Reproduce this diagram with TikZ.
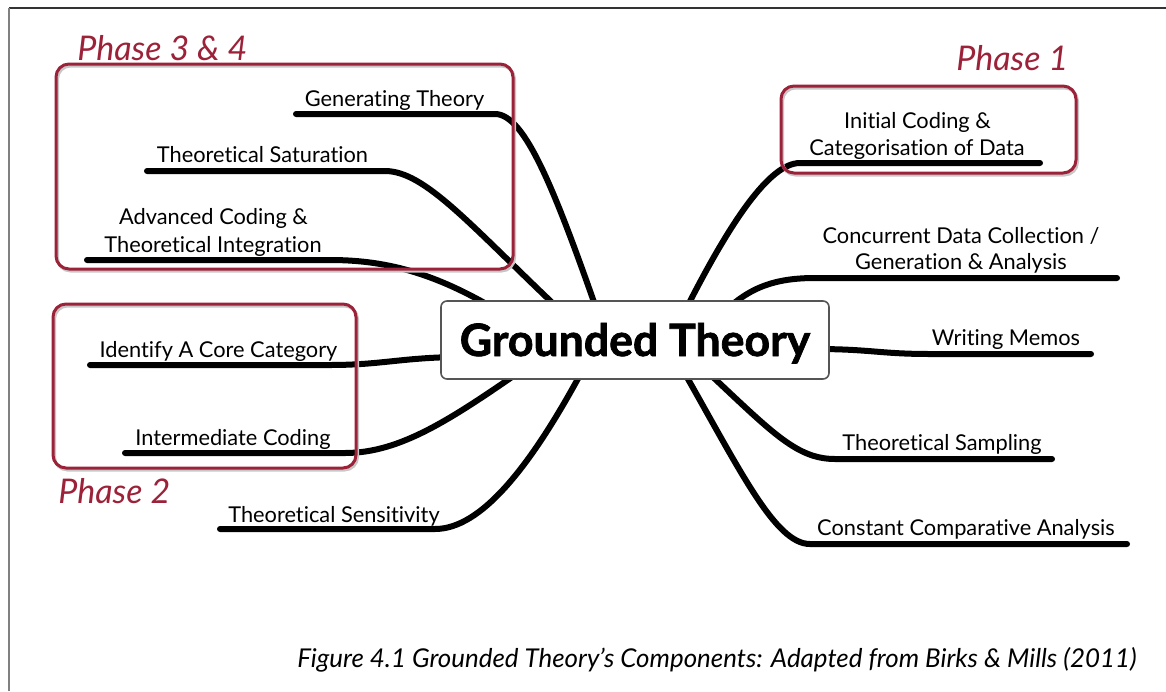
\documentclass[tikz,border=0pt]{standalone}
\usepackage{fontspec}
\setmainfont{Lato}[Ligatures={NoCommon}]
\newfontfamily\hubfont{Lato}[Ligatures={NoCommon}, BoldFeatures={FakeBold=1.6}]
\definecolor{phasered}{RGB}{155,34,56}
\definecolor{hubgray}{RGB}{85,85,85}
\begin{document}
\begin{tikzpicture}[x=0.5pt,y=-0.5pt,
  branch/.style={line width=3pt, line cap=round, draw=black},
  lbl/.style={anchor=base, inner sep=0pt, font=\fontsize{10.9}{12}\selectfont},
  phasebox/.style={draw=phasered, line width=1.5pt, rounded corners=6.5pt},
  phaseshadow/.style={draw=black!22, line width=1.5pt, rounded corners=6.5pt},
  phaselbl/.style={anchor=base west, inner sep=0pt, text=phasered, font=\fontsize{17}{20}\selectfont\itshape},
  hub/.style={draw=hubgray, line width=0.8pt, fill=white, rounded corners=3pt, inner sep=0pt,
    minimum width=194pt, text height=27.5pt, text depth=11.5pt, anchor=base,
    font=\hubfont\fontsize{22.3}{24}\selectfont\bfseries},
  framel/.style={line width=0.7pt}
]
\useasboundingbox (0,0) rectangle (1166,691);

% frame (partial)
\coordinate (fTL) at (9,8);
\coordinate (fTR) at (1166,8);
\coordinate (fBL) at (9,691);
\draw[framel, draw=black!80] (fTL) -- (fTR);
\draw[framel, draw=black!50] (fTL) -- (fBL);

% ---------- left branches ----------
\coordinate (gen0) at (296,114); \coordinate (gen1) at (495,114); \coordinate (genH) at (602,325);
\draw[branch] (gen0) -- (gen1) .. controls (525,114) and (555,190) .. (genH);

\coordinate (sat0) at (147,171); \coordinate (sat1) at (385,171); \coordinate (satH) at (562,312);
\draw[branch] (sat0) -- (sat1) .. controls (425,171) and (470,225) .. (satH);

\coordinate (adv0) at (87,260); \coordinate (adv1) at (330,260); \coordinate (advH) at (505,315);
\draw[branch] (adv0) -- (adv1) .. controls (390,260) and (440,275) .. (advH);

\coordinate (idf0) at (90,365); \coordinate (idf1) at (330,365); \coordinate (idfH) at (455,357);
\draw[branch] (idf0) -- (idf1) .. controls (380,365) and (400,358) .. (idfH);

\coordinate (int0) at (125,453); \coordinate (int1) at (345,453); \coordinate (intH) at (525,368);
\draw[branch] (int0) -- (int1) .. controls (400,453) and (450,420) .. (intH);

\coordinate (sen0) at (220,529); \coordinate (sen1) at (435,529); \coordinate (senH) at (588,360);
\draw[branch] (sen0) -- (sen1) .. controls (480,529) and (530,470) .. (senH);

% ---------- right branches ----------
\coordinate (ini0) at (1040,163); \coordinate (ini1) at (800,163); \coordinate (iniH) at (678,325);
\draw[branch] (ini0) -- (ini1) .. controls (770,163) and (730,220) .. (iniH);

\coordinate (con0) at (1117,278); \coordinate (con1) at (815,278); \coordinate (conH) at (718,318);
\draw[branch] (con0) -- (con1) .. controls (770,278) and (745,290) .. (conH);

\coordinate (wri0) at (1091,354); \coordinate (wri1) at (930,354); \coordinate (wriH) at (815,349);
\draw[branch] (wri0) -- (wri1) .. controls (880,354) and (870,349) .. (wriH);

\coordinate (sam0) at (1052,459); \coordinate (sam1) at (835,459); \coordinate (samH) at (700,365);
\draw[branch] (sam0) -- (sam1) .. controls (795,459) and (770,430) .. (samH);

\coordinate (cst0) at (1127,544); \coordinate (cst1) at (810,544); \coordinate (cstH) at (680,365);
\draw[branch] (cst0) -- (cst1) .. controls (775,544) and (740,470) .. (cstH);

% ---------- hub ----------
\node[hub] (c) at (635,356) {Grounded Theory};

% ---------- labels ----------
\node[lbl] (tGen) at (394.5,106) {Generating Theory};
\node[lbl] (tSat) at (262.5,162) {Theoretical Saturation};
\node[lbl] (tAdvA) at (213.5,224) {Advanced Coding \&};
\node[lbl] (tAdvB) at (213,252) {Theoretical Integration};
\node[lbl] (tIdf) at (218.5,357) {Identify A Core Category};
\node[lbl] (tInt) at (233,445) {Intermediate Coding};
\node[lbl] (tSen) at (334,522) {Theoretical Sensitivity};
\node[lbl] (tIniA) at (917.5,128) {Initial Coding \&};
\node[lbl] (tIniB) at (917,155) {Categorisation of Data};
\node[lbl] (tConA) at (961,243) {Concurrent Data Collection /};
\node[lbl] (tConB) at (961,269) {Generation \& Analysis};
\node[lbl] (tWri) at (1006,345) {Writing Memos};
\node[lbl] (tSam) at (942,450) {Theoretical Sampling};
\node[lbl] (tCst) at (966,535) {Constant Comparative Analysis};

% ---------- phase boxes ----------
\draw[phaseshadow] (57.5,66) rectangle (514.5,271);
\draw[phasebox] (56,64) rectangle (513,269);
\draw[phaseshadow] (782.5,88) rectangle (1077.5,175);
\draw[phasebox] (781,86) rectangle (1076,173);
\draw[phaseshadow] (54.5,306) rectangle (357.5,470);
\draw[phasebox] (53,304) rectangle (356,468);

\node[phaselbl] (p34) at (77,60) {Phase 3 \& 4};
\node[phaselbl] (p1) at (956,70) {Phase 1};
\node[phaselbl] (p2) at (58,503) {Phase 2};

% ---------- caption ----------
\node[anchor=base east, inner sep=0pt, font=\fontsize{12.95}{16}\selectfont\itshape] (cap) at (1137,667)
  {Figure 4.1 Grounded Theory’s Components: Adapted from Birks \& Mills (2011)};
\end{tikzpicture}
\end{document}
